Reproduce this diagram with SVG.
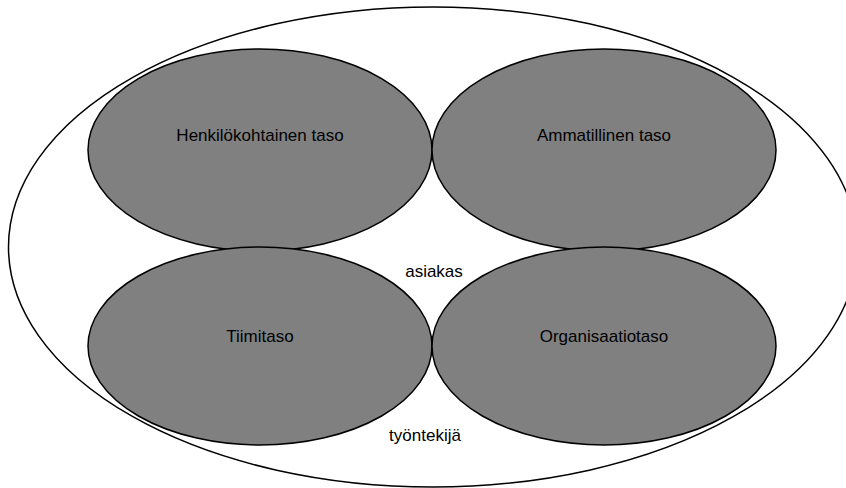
<svg xmlns="http://www.w3.org/2000/svg" width="846" height="488" viewBox="0 0 846 488">
<style>
.outer{fill:#fff;stroke:#000;stroke-width:1.5}
.lvl{fill:#808080;stroke:#000;stroke-width:1.5}
text{font-family:"Liberation Sans",Arial,sans-serif;font-size:17px;fill:#000;text-anchor:middle}
</style>
<rect width="846" height="488" fill="#fff"/>
<g id="outer"><ellipse class="outer" cx="433" cy="247" rx="424.5" ry="240"/></g>
<g id="henkilokohtainen"><ellipse class="lvl" cx="260" cy="150" rx="172" ry="101"/><text x="260" y="141">Henkilökohtainen taso</text></g>
<g id="ammatillinen"><ellipse class="lvl" cx="604" cy="150" rx="172" ry="101"/><text x="604" y="141">Ammatillinen taso</text></g>
<g id="tiimitaso"><ellipse class="lvl" cx="260" cy="346" rx="172" ry="99"/><text x="260" y="342">Tiimitaso</text></g>
<g id="organisaatiotaso"><ellipse class="lvl" cx="604" cy="346" rx="172" ry="99"/><text x="604" y="342">Organisaatiotaso</text></g>
<g id="labels"><text x="434" y="277">asiakas</text><text x="425" y="441">työntekijä</text></g>
<g id="connectors"/>
</svg>
